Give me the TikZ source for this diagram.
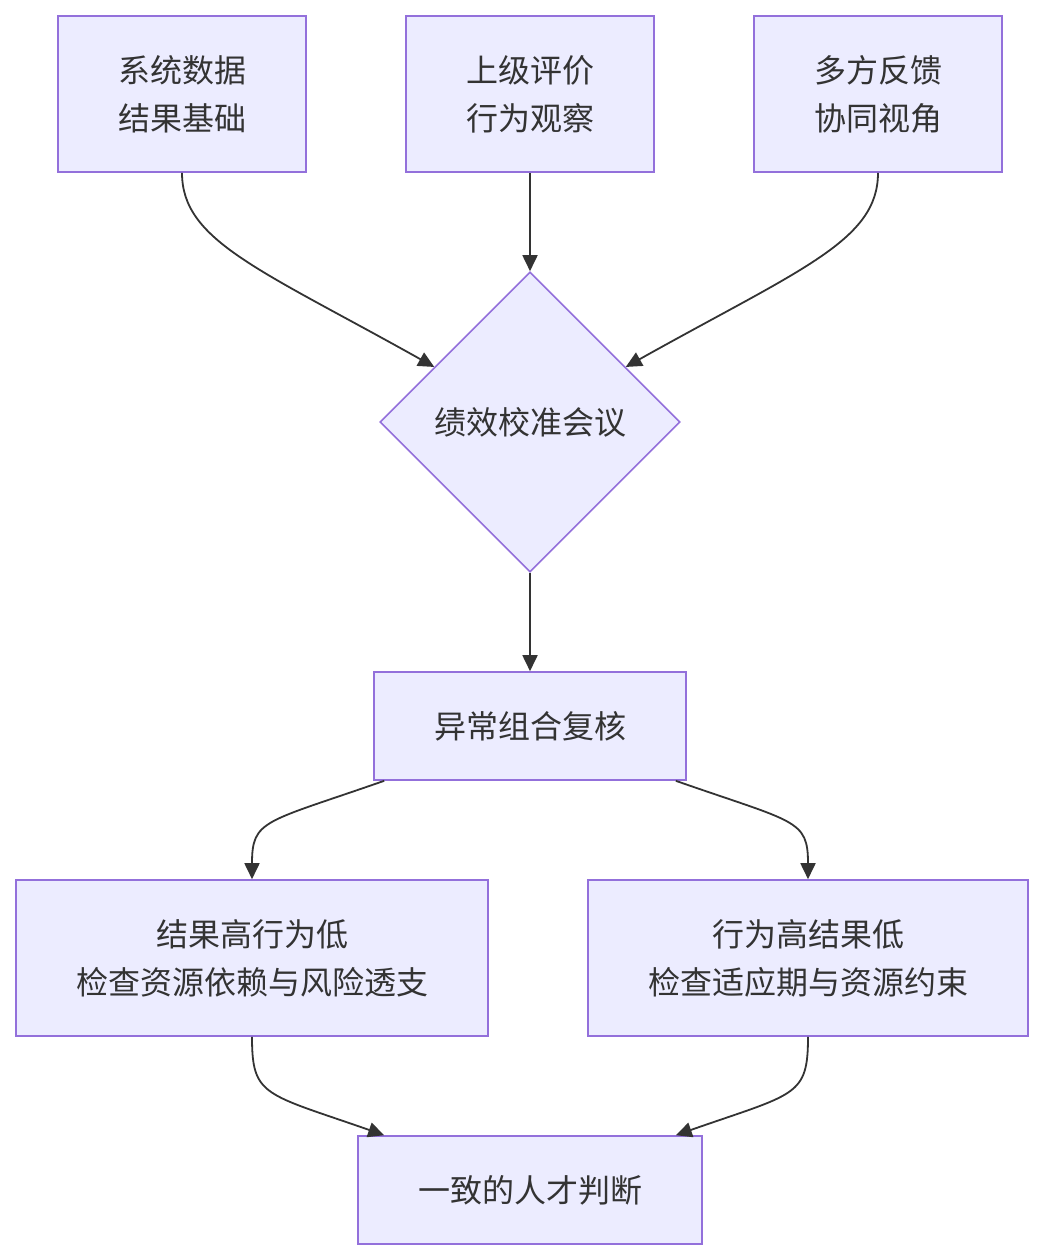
\documentclass[tikz,border=0pt]{standalone}
\usepackage{fontspec}
\setmainfont{Noto Sans CJK SC}
\usetikzlibrary{shapes.geometric,arrows.meta,calc}
\definecolor{nodefill}{HTML}{ECECFF}
\definecolor{nodeline}{HTML}{9370DB}
\definecolor{txt}{HTML}{333333}
\begin{document}
\begin{tikzpicture}[x=1pt,y=-1pt,
  box/.style={draw=nodeline,fill=nodefill,line width=1.6pt,align=center,text=txt,
    font=\fontsize{32}{48}\selectfont,inner sep=0pt},
  dia/.style={diamond,aspect=1,draw=nodeline,fill=nodefill,line width=1.6pt,text=txt,
    font=\fontsize{32}{48}\selectfont,inner sep=0pt,minimum width=300pt,minimum height=300pt},
  conn/.style={draw=txt,line width=1.8pt,-{Triangle[length=16pt,width=15pt]}}]
\useasboundingbox (0,0) rectangle (1044,1260);
\node[box,minimum width=248pt,minimum height=156pt] (A) at (182,94) {系统数据\\结果基础};
\node[box,minimum width=248pt,minimum height=156pt] (B) at (530,94) {上级评价\\行为观察};
\node[box,minimum width=248pt,minimum height=156pt] (C) at (878,94) {多方反馈\\协同视角};
\node[dia] (M) at (530,422) {绩效校准会议};
\node[box,minimum width=312pt,minimum height=108pt] (D) at (530,726) {异常组合复核};
\node[box,minimum width=472pt,minimum height=156pt] (E) at (252,958) {结果高行为低\\检查资源依赖与风险透支};
\node[box,minimum width=440pt,minimum height=156pt] (F) at (808,958) {行为高结果低\\检查适应期与资源约束};
\node[box,minimum width=344pt,minimum height=108pt] (G) at (530,1190) {一致的人才判断};
\coordinate (p1) at ($(M.north)!0.635!(M.west)$);
\coordinate (p2) at ($(M.north)!0.635!(M.east)$);
\coordinate (d1) at ($(D.south west)+(11,0)$);
\coordinate (d2) at ($(D.south east)+(-11,0)$);
\coordinate (g1) at ($(G.north west)+(27,0)$);
\coordinate (g2) at ($(G.north east)+(-27,0)$);
\draw[conn] (A.south) .. controls +(0,68) and +(-175,-98) .. (p1);
\draw[conn] (B.south) -- (M.north);
\draw[conn] (C.south) .. controls +(0,68) and +(175,-98) .. (p2);
\draw[conn] (M.south) -- (D.north);
\draw[conn] (d1) .. controls +(-120,42) and +(0,-60) .. (E.north);
\draw[conn] (d2) .. controls +(120,42) and +(0,-60) .. (F.north);
\draw[conn] (E.south) .. controls +(0,60) and +(-120,-42) .. (g1);
\draw[conn] (F.south) .. controls +(0,60) and +(120,-42) .. (g2);
\end{tikzpicture}
\end{document}
